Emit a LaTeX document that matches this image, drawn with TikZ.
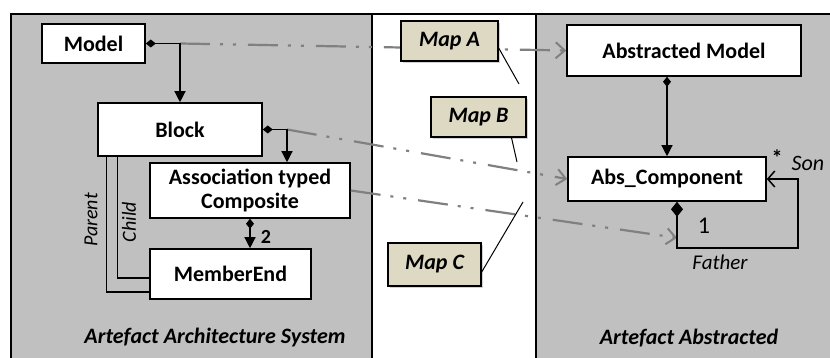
\documentclass[tikz,border=0pt]{standalone}
\usepackage{fontspec}
\setmainfont{Carlito}
\usetikzlibrary{arrows.meta,shadows}
\definecolor{panelgray}{RGB}{192,192,192}
\definecolor{mapfill}{RGB}{221,217,195}
\definecolor{linkgray}{RGB}{128,128,128}

\begin{document}
\begin{tikzpicture}[x=1pt,y=-1pt,font=\fontsize{22}{25}\selectfont,
  cls/.style={draw,fill=white,line width=1.6pt,align=center,inner sep=0pt,font=\fontsize{22}{24}\selectfont\bfseries},
  mapbox/.style={draw,fill=mapfill,line width=1.4pt,inner sep=0pt,font=\fontsize{22}{26}\selectfont\bfseries\itshape,
    drop shadow={shadow xshift=2pt,shadow yshift=-2pt,opacity=.35}},
  comp/.style={line width=1.3pt,{Diamond[length=10pt,width=8pt]}-{Triangle[length=11pt,width=11pt]}},
  mapping/.style={linkgray,line width=2.2pt,dash pattern=on 30pt off 10pt on 3pt off 10pt on 3pt off 12pt,
    -{Straight Barb[length=9pt,width=16pt,line width=2pt]}},
  note/.style={line width=1pt}]
\useasboundingbox (0,0) rectangle (830,358);
\clip (0,0) rectangle (830,358);
% panels
\fill[panelgray] (11,14) rectangle (372,370);
\fill[white] (372,14) rectangle (536,370);
\fill[panelgray] (536,14) rectangle (840,370);
\draw[line width=1.5pt] (11,370) -- (11,14) (372,14) -- (372,370) (536,14) -- (536,370);
\draw[line width=2.5pt] (10,14) -- (840,14);
% classes
\node[cls,minimum width=103pt,minimum height=39pt] (model) at (93.5,43.5) {Model};
\node[cls,minimum width=164pt,minimum height=53pt] (block) at (180,129.5) {Block};
\node[cls,minimum width=200pt,minimum height=55pt] (assoc) at (250,190.5) {Association typed\\Composite};
\node[cls,minimum width=161pt,minimum height=50pt] (member) at (230.5,274) {MemberEnd};
\node[cls,minimum width=234pt,minimum height=51pt] (absmodel) at (684,50.5) {Abstracted Model};
\node[cls,minimum width=198pt,minimum height=44pt] (abscomp) at (667,179) {Abs\_Component};
\coordinate (modelcorner) at (model.east -| block.north);
\coordinate (blockcorner) at (287,129.5);
\coordinate (loopbr) at (798,248);
\coordinate (fatherin) at ([xshift=10pt,yshift=-36pt]abscomp.south);
% mappings
\draw[mapping] (modelcorner) -- (absmodel.west);
\draw[mapping] (blockcorner) -- (abscomp.west);
\draw[mapping] (assoc.east) -- (fatherin);
% compositions
\draw[comp] (model.east) -| (block.north);
\draw[comp] (block.east) -| (blockcorner |- assoc.north);
\draw[comp] (assoc.south) -- (assoc.south |- member.north);
\draw[comp] (abscomp.north |- absmodel.south) -- (abscomp.north);
\draw[line width=1.3pt,{Diamond[length=15pt,width=12pt]}-{Straight Barb[length=7pt,width=16pt,line width=1.5pt]}]
  ([xshift=10pt]abscomp.south) |- (loopbr) |- (abscomp.east);
\draw[line width=1.3pt] ([xshift=9pt]block.south west) |- ([yshift=-18pt]member.west);
\draw[line width=1.3pt] ([xshift=20pt]block.south west) |- ([yshift=-4pt]member.west);
% maps
\node[mapbox,minimum width=97pt,minimum height=40pt] (mapa) at (449.5,41) {Map A};
\node[mapbox,minimum width=95pt,minimum height=40pt] (mapb) at (478.5,117) {Map B};
\node[mapbox,minimum width=93pt,minimum height=43pt] (mapc) at (434.5,264.5) {Map C};
\coordinate (tipa) at (519,84);
\coordinate (tipb) at (517,162);
\coordinate (tipc) at (523,202);
\draw[note] ([yshift=-7pt]mapa.east) -- (tipa);
\draw[note] ([xshift=33pt]mapb.south) -- (tipb);
\draw[note] ([yshift=-7.5pt]mapc.east) -- (tipc);
% labels
\node[font=\fontsize{20}{22}\selectfont\bfseries] (mult2) at (266,237) {2};
\node[rotate=90,font=\fontsize{20}{22}\selectfont\itshape] (parent) at (91,220) {Parent};
\node[rotate=90,font=\fontsize{20}{22}\selectfont\itshape] (child) at (129,222) {Child};
\node[font=\fontsize{24}{26}\selectfont] (mult1) at (704,226) {1};
\node[font=\fontsize{21}{24}\selectfont\itshape] (father) at (720,262) {Father};
\node[font=\fontsize{22}{24}\selectfont\bfseries] (star) at (777,158) {*};
\node[font=\fontsize{22}{24}\selectfont\itshape] (son) at (808,163) {Son};
\node[font=\fontsize{22}{26}\selectfont\bfseries\itshape] (lefttitle) at (215,338) {Artefact Architecture System};
\node[font=\fontsize{22}{26}\selectfont\bfseries\itshape] (righttitle) at (689,338) {Artefact Abstracted};
\end{tikzpicture}
\end{document}
